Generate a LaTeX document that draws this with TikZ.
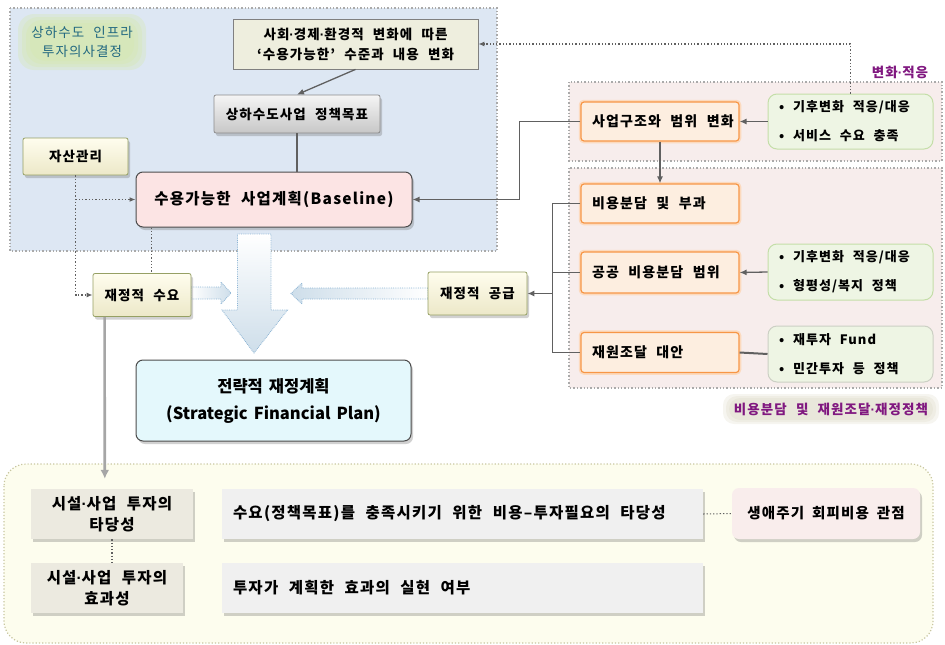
\documentclass[tikz,border=0pt]{standalone}
\usepackage{fontspec}
\setmainfont{Noto Sans CJK KR}[WordSpace=2.2, LetterSpace=8]
\newfontfamily\planfont{Noto Sans CJK KR}[WordSpace=1.6]
\newfontfamily\dotfont{Liberation Sans}
\usetikzlibrary{arrows.meta,calc,shadows}

\definecolor{panelblue}{RGB}{221,231,243}
\definecolor{panelpink}{RGB}{247,237,236}
\definecolor{panelyellow}{RGB}{253,253,238}
\definecolor{panelyline}{RGB}{200,198,160}
\definecolor{dotgray}{RGB}{170,170,170}
\definecolor{linegray}{RGB}{96,96,96}
\definecolor{titleteal}{RGB}{33,104,128}
\definecolor{glowgreen}{RGB}{214,232,170}
\definecolor{glowgray}{RGB}{214,210,186}
\definecolor{labelpurple}{RGB}{128,24,128}
\definecolor{beigefill}{RGB}{238,238,222}
\definecolor{pinkfill}{RGB}{252,228,228}
\definecolor{cyanfill}{RGB}{228,248,252}
\definecolor{orangeline}{RGB}{247,150,70}
\definecolor{orangefill}{RGB}{253,238,224}
\definecolor{greenfill}{RGB}{238,245,228}
\definecolor{greenline}{RGB}{196,222,168}
\definecolor{greyline}{RGB}{204,208,196}
\definecolor{creamtop}{RGB}{255,253,238}
\definecolor{creambot}{RGB}{236,232,200}
\definecolor{oliveline}{RGB}{150,160,100}
\definecolor{arrowblue}{RGB}{140,180,212}
\definecolor{arrowfill}{RGB}{206,222,234}
\definecolor{judgefill}{RGB}{236,234,224}
\definecolor{textfill}{RGB}{240,240,240}
\definecolor{lifefill}{RGB}{249,237,236}

% narrow middle dot between Korean words
\newcommand\md{{\dotfont\bfseries ·}}
% wide word gap
\newcommand\wsp{\hspace{0.55em}}
% left-aligned line of a given width
\newcommand\lline[2]{\makebox[#1][l]{#2}}
\newcommand\fnorm{\fontsize{13.5}{20}\selectfont\bfseries}
\newcommand\forange{\fontsize{14}{20}\selectfont\bfseries}
\newcommand\fbullet{\fontsize{13}{29}\selectfont\bfseries}
\newcommand\fbig{\fontsize{15.5}{20}\selectfont\bfseries}
\newcommand\fplan{\planfont\fontsize{16.5}{27}\selectfont\bfseries}
\newcommand\fjudge{\fontsize{15.5}{21}\selectfont\bfseries}
\newcommand\fline{\fontsize{15.5}{21}\selectfont\bfseries}
\newcommand\flife{\fontsize{14.5}{20}\selectfont\bfseries}
\newcommand\ftitle{\fontsize{13.5}{19}\selectfont}

\begin{document}
\begin{tikzpicture}[x=1pt,y=-1pt,
  every node/.style={inner sep=0pt, align=center, text=black},
  boxshadow/.style={drop shadow={shadow xshift=2pt, shadow yshift=-3pt, opacity=0.3, fill=black!60}},
  dotpanel/.style={draw=dotgray, line width=1.4pt, dotted},
  conn/.style={draw=linegray, line width=1.3pt},
  connarrow/.style={conn, -{Latex[length=7pt,width=6pt]}},
  dotconn/.style={draw=linegray, line width=1.3pt, dotted},
  dotarrow/.style={dotconn, -{Latex[length=6pt,width=5pt]}},
  graybox/.style={draw=black!45, line width=0.8pt, top color=white!96!black, bottom color=black!22, rounded corners=2pt, boxshadow},
  creambox/.style={draw=oliveline, line width=0.8pt, top color=creamtop, bottom color=creambot, rounded corners=2pt, boxshadow},
  planbox/.style={draw=black!70, line width=1pt, rounded corners=7pt, boxshadow},
  orangebox/.style={draw=orangeline, line width=1.2pt, fill=orangefill, rounded corners=3pt,
    preaction={draw=orangeline!35, line width=4.5pt}},
  greenbox/.style={draw=greenline, line width=1pt, fill=greenfill, rounded corners=9pt, align=left},
  blockarrow/.style={draw=arrowblue, line width=0.8pt, densely dotted},
  judgebox/.style={fill=judgefill, boxshadow},
  textbox/.style={fill=textfill, boxshadow},
]
\useasboundingbox (0,0) rectangle (945,645);

% ---- background panels ----
\draw[dotpanel, fill=panelblue] (10,8) rectangle (497,251);
\draw[dotpanel, fill=panelpink] (569,82) rectangle (942,161);
\draw[dotpanel, fill=panelpink] (569,168) rectangle (942,388);
\draw[draw=panelyline, line width=1.2pt, dotted, fill=panelyellow, rounded corners=22pt] (4,464) rectangle (933,643);

% soft glow behind the section titles
\foreach \w/\h in {128/56, 120/50, 112/44, 104/38}
  \fill[glowgreen, opacity=0.3, rounded corners=16pt] ({82-\w/2},{42-\h/2}) rectangle ({82+\w/2},{42+\h/2});
\foreach \w/\h in {216/30, 210/26, 204/22}
  \fill[glowgray, opacity=0.22, rounded corners=11pt] ({831-\w/2},{409-\h/2}) rectangle ({831+\w/2},{409+\h/2});

\node[font=\ftitle, text=titleteal] (title) at (82,42) {상하수도 인프라\\투자의사결정};
\node[font=\fnorm, text=labelpurple] (adapt) at (900,72) {변화\md 적응};
\node[font=\fnorm, text=labelpurple] (policy) at (831,409) {비용분담 및 재원조달\md 재정정책};

% ---- block arrows ----
\path[blockarrow, top color=white, bottom color=arrowfill]
  (237.5,234) -- (271,234) -- (271,310) -- (287.5,310) -- (254,353) -- (222,310) -- (237.5,310) -- cycle;
\path[blockarrow, left color=arrowfill, right color=white]
  (428,288) -- (302,288) -- (302,283) -- (291,293.5) -- (302,304) -- (302,299) -- (428,299) -- cycle;
\path[blockarrow, left color=white, right color=arrowfill]
  (191,287) -- (221,287) -- (221,282) -- (231,293) -- (221,304) -- (221,299) -- (191,299) -- cycle;

% ---- left block ----
\node[draw=black!50, line width=0.8pt, fill=beigefill, minimum width=245, minimum height=50, font=\fnorm] (chg) at (355.5,44)
  {사회\md 경제\md 환경적 변화에 따른\\‘수용가능한’ 수준과 내용 변화};
\node[graybox, minimum width=166, minimum height=38, font=\fnorm] (goal) at (297,114) {상하수도사업 정책목표};
\node[creambox, minimum width=105, minimum height=37, font=\fnorm] (asset) at (75.5,156.5) {자산관리};
\node[planbox, fill=pinkfill, minimum width=276, minimum height=55, font=\fbig] (base) at (274,199.5) {수용가능한 사업계획(Baseline)};
\node[creambox, minimum width=98, minimum height=43, font=\fnorm] (demand) at (142,295) {재정적 수요};
\node[creambox, minimum width=99, minimum height=43, font=\fnorm] (supply) at (477.5,293.5) {재정적 공급};
\node[planbox, fill=cyanfill, minimum width=275, minimum height=81, font=\fplan] (sfp) at (273.5,400.5)
  {전략적 재정계획\\(Strategic Financial Plan)};

% ---- right block ----
\node[orangebox, minimum width=158, minimum height=39, font=\forange] (struct) at (660,121.5) {\lline{136pt}{사업구조와 범위 변화}};
\node[orangebox, minimum width=158, minimum height=39, font=\forange] (cost) at (660,203.5) {\lline{136pt}{비용분담 및 부과}};
\node[orangebox, minimum width=158, minimum height=41, font=\forange] (public) at (660,272.5) {\lline{136pt}{공공 비용분담 범위}};
\node[orangebox, minimum width=158, minimum height=40, font=\forange] (fund) at (660,352.5) {\lline{136pt}{재원조달 대안}};
\node[greenbox, minimum width=165, minimum height=55, font=\fbullet] (g1) at (850.5,121.5)
  {\lline{143pt}{• 기후변화 적응/대응}\\\lline{143pt}{• 서비스 수요 충족}};
\node[greenbox, minimum width=165, minimum height=56, font=\fbullet] (g2) at (850.5,272)
  {\lline{143pt}{• 기후변화 적응/대응}\\\lline{143pt}{• 형평성/복지 정책}};
\node[greenbox, draw=greyline, minimum width=165, minimum height=56, font=\fbullet] (g3) at (850.5,354)
  {\lline{143pt}{• 재투자 Fund}\\\lline{143pt}{• 민간투자 등 정책}};

% ---- bottom block ----
\node[judgebox, minimum width=162, minimum height=50, font=\fjudge] (valid) at (112,514) {시설\md 사업 투자의\\타당성};
\node[judgebox, minimum width=152, minimum height=50, font=\fjudge] (effect) at (107,588) {시설\md 사업 투자의\\효과성};
\node[textbox, minimum width=481, minimum height=50, font=\fline] (vtext) at (462.5,514)
  {\lline{459pt}{수요(정책목표)를 충족시키기 위한 비용–투자필요의 타당성}};
\node[textbox, minimum width=481, minimum height=50, font=\fline] (etext) at (462.5,588)
  {\lline{459pt}{투자가 계획한 효과의 실현 여부}};
\node[fill=lifefill, rounded corners=7pt, boxshadow, minimum width=188, minimum height=51, font=\flife] (life) at (826,513.5)
  {생애주기\wsp 회피비용\wsp 관점};

% ---- connectors ----
\draw[connarrow] (chg.south) -- (goal.north);
\draw[conn] (goal.south) -- (goal.south |- base.north);
\draw[dotarrow] (asset.south) |- (demand.west);
\draw[dotarrow] (asset.south |- base.west) -- (base.west);
\coordinate (bdrop) at ($(base.south west)+(16,0)$);
\draw[dotconn] (bdrop) -- (bdrop |- demand.north);
\draw[dotarrow] (g1.north) |- (chg.east);
\draw[connarrow] (g1.west) -- (struct.east);
\draw[connarrow] (struct.west) -- ++(-61,0) |- (base.east);
\draw[connarrow] (struct.south) -- (cost.north);
\draw[conn] (cost.west) -- ++(-28,0) coordinate (bus) |- (fund.west);
\draw[conn] (bus |- public.west) -- (public.west);
\draw[connarrow] (bus |- supply.east) -- (supply.east);
\draw[connarrow] (g2.west) -- (public.east);
\draw[conn, line width=2pt] (fund.east) -- (g3.west);
\draw[draw=black!35, line width=2.6pt, -{Latex[length=9pt,width=9pt]}]
  ($(demand.south west)+(12,0)$) -- ($(valid.north west)+(74,-10)$);
\draw[dotconn] (valid.south) -- (effect.north -| valid.south);
\draw[dotconn, line width=1pt] (vtext.east) -- (life.west);
\end{tikzpicture}
\end{document}
